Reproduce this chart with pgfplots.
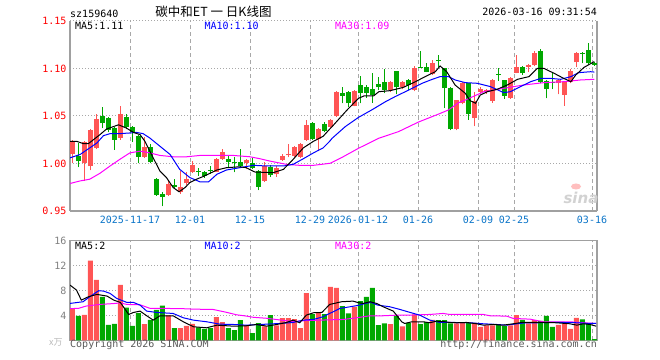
\documentclass[border=0pt]{standalone}
\usepackage{pgfplots}
\pgfplotsset{compat=1.18}
\usepackage{pgfplotstable}
\usepackage{fontspec}
\setmainfont{DejaVu Sans Mono}
\newfontfamily\cjk{Noto Sans CJK SC}
\newfontfamily\sinafont{DejaVu Sans}
\definecolor{kred}{HTML}{FF5555}
\definecolor{kgreen}{HTML}{00A800}
\definecolor{gridgray}{HTML}{A8A8A8}
\definecolor{axgray}{HTML}{A0A0A0}
\definecolor{dateblue}{HTML}{0A74C8}
\definecolor{ticred}{HTML}{FF0000}
\definecolor{mablue}{HTML}{0000FF}
\definecolor{mamag}{HTML}{FF00FF}
\definecolor{txtgray}{HTML}{5A5A5A}

% red (up) candles: index open high low close volume
\pgfplotstableread{
i o h l c v
0 1.010 1.025 1.000 1.024 5.07
2 1.000 1.024 0.982 1.022 4.10
3 0.997 1.036 0.993 1.035 12.75
4 1.016 1.052 1.0155 1.0465 9.70
8 1.027 1.0604 1.025 1.052 8.90
12 1.007 1.028 1.006 1.017 2.61
16 0.967 0.9825 0.966 0.978 4.00
18 0.970 0.992 0.968 0.9755 1.97
19 0.979 0.991 0.9775 0.9834 2.35
20 0.991 1.003 0.990 0.998 2.67
24 0.9915 1.0055 0.991 1.0047 3.73
25 1.0047 1.015 1.004 1.0117 2.93
29 1.000 1.0045 0.9939 1.0037 2.40
32 0.9817 1.001 0.981 0.9977 2.24
34 0.9886 0.997 0.986 0.995 2.40
35 1.0037 1.0096 1.003 1.008 3.57
36 1.0085 1.0205 1.0065 1.0095 3.57
37 1.0082 1.0188 1.007 1.0177 3.41
38 1.0072 1.021 1.006 1.0205 1.97
39 1.0247 1.046 1.024 1.0405 7.57
41 1.0257 1.037 1.013 1.036 4.53
43 1.0387 1.047 1.037 1.0457 8.55
44 1.050 1.0761 1.049 1.0754 8.40
47 1.0604 1.0772 1.060 1.076 5.36
53 1.0772 1.087 1.075 1.0859 2.61
55 1.080 1.087 1.078 1.0859 2.24
57 1.0772 1.102 1.076 1.1006 4.18
60 1.0936 1.109 1.093 1.106 3.28
64 1.0358 1.067 1.035 1.0666 2.72
65 1.063 1.086 1.062 1.085 2.88
67 1.0474 1.0755 1.0393 1.066 2.80
68 1.0754 1.080 1.074 1.0782 2.16
69 1.075 1.078 1.073 1.077 2.43
70 1.0656 1.089 1.064 1.0877 2.43
73 1.069 1.091 1.068 1.0894 2.43
74 1.0954 1.114 1.095 1.1017 4.05
76 1.1017 1.105 1.0964 1.1034 2.72
77 1.1034 1.118 1.102 1.1164 3.25
81 1.0842 1.089 1.0726 1.0877 2.48
82 1.072 1.087 1.0604 1.0859 2.64
83 1.0852 1.099 1.084 1.0975 1.84
84 1.1062 1.117 1.1017 1.1164 3.60
}\redk

% green (down) candles
\pgfplotstableread{
i o h l c v
1 1.008 1.0215 0.996 1.0025 3.95
5 1.050 1.059 1.037 1.042 6.95
6 1.0476 1.049 1.033 1.035 2.50
7 1.037 1.038 1.0146 1.025 2.67
9 1.0486 1.052 1.036 1.038 5.26
10 1.038 1.039 1.023 1.033 2.35
11 1.029 1.030 1.000 1.007 4.37
13 1.017 1.020 1.000 1.001 3.30
14 0.984 0.9845 0.966 0.967 4.90
15 0.9675 0.9695 0.955 0.9645 5.55
17 0.977 0.9834 0.974 0.975 1.97
21 0.992 0.9955 0.987 0.9905 2.08
22 0.991 0.992 0.985 0.987 1.87
23 0.9935 0.997 0.989 0.9925 1.97
26 1.005 1.009 0.9967 1.002 1.97
27 1.002 1.0072 0.9907 1.0005 1.65
28 1.001 1.015 0.996 0.997 3.25
30 1.000 1.006 0.994 0.995 1.17
31 0.992 0.993 0.972 0.9757 2.77
33 0.9967 0.998 0.986 0.988 4.05
40 1.043 1.044 1.025 1.0257 4.21
42 1.041 1.044 1.033 1.034 4.21
45 1.0744 1.0807 1.063 1.071 5.49
46 1.0754 1.0765 1.059 1.0632 4.35
48 1.0824 1.092 1.063 1.0737 6.29
49 1.080 1.082 1.069 1.074 6.96
50 1.078 1.095 1.064 1.072 8.40
51 1.083 1.091 1.077 1.080 2.45
52 1.0859 1.099 1.074 1.0772 2.75
54 1.0968 1.097 1.0726 1.080 3.95
56 1.0877 1.089 1.077 1.0824 2.83
58 1.1015 1.118 1.1005 1.1005 2.61
59 1.1017 1.106 1.096 1.0964 2.94
61 1.109 1.114 1.1017 1.108 3.25
62 1.0999 1.100 1.058 1.0789 3.25
63 1.0789 1.080 1.035 1.0358 2.75
66 1.0842 1.085 1.046 1.052 2.83
71 1.0938 1.1006 1.087 1.0928 2.56
72 1.0877 1.088 1.068 1.0712 2.30
75 1.1017 1.102 1.093 1.0947 3.28
78 1.1185 1.120 1.085 1.0852 3.12
79 1.0866 1.088 1.0684 1.0782 3.95
80 1.086 1.0964 1.0782 1.085 2.16
85 1.116 1.117 1.1052 1.115 3.38
86 1.1192 1.127 1.1034 1.1052 2.78
87 1.1052 1.107 1.1025 1.1035 0.21
}\greenk

\pgfplotsset{
 kbase/.style={
  scale only axis, anchor=south west, width=527bp,
  xmin=-0.383, xmax=87.45,
  xtick={9.62,19.62,29.62,39.62,47.62,57.62,67.62,73.62,86.62},
  major tick length=0pt,
  xmajorgrids, ymajorgrids,
  major x grid style={gridgray, line width=1bp, dash pattern=on 4bp off 3bp},
  major y grid style={gridgray, line width=1bp, dash pattern=on 1bp off 2bp},
  axis line style={axgray, line width=1.2bp},
  tick label style={font=\fontsize{10bp}{12bp}\selectfont, inner sep=0pt},
  /pgf/number format/assume math mode=true,
 },
 wick/.style={only marks, mark=*, mark size=0pt, mark options={draw=none, fill=none}, forget plot,
   error bars/.cd, y dir=plus, y explicit, error mark=none,
   error bar style={line width=1bp, #1}},
 body/.style={only marks, mark=*, mark size=0pt, mark options={draw=none, fill=none}, forget plot,
   error bars/.cd, y dir=plus, y explicit, error mark=none,
   error bar style={line width=5bp, #1}},
}

\begin{document}
\begin{tikzpicture}[x=1bp,y=1bp]
\path[use as bounding box] (0bp,0bp) rectangle (660bp,360bp);

% ---------------- price panel ----------------
\begin{axis}[kbase, at={(70bp,149bp)}, height=190.3bp,
  ymin=0.95, ymax=1.15,
  ytick={0.95,1.00,1.05,1.10,1.15},
  yticklabels={0.95,1.00,1.05,1.10,1.15},
  xticklabels={2025-11-17,12-01,12-15,12-29,2026-01-12,01-26,02-09,02-25,03-16},
  axis x line*=bottom, axis y line*=box,
  yticklabel style={text=ticred, anchor=base east, xshift=-3.3bp, yshift=-4bp},
  xticklabel style={text=dateblue, anchor=base, yshift=-13bp},
]
\addplot[wick=kred] table[x=i, y=l, y error plus expr=\thisrow{h}-\thisrow{l}] {\redk};
\addplot[body=kred] table[x=i, y=o, y error plus expr=\thisrow{c}-\thisrow{o}] {\redk};
\addplot[wick=kgreen] table[x=i, y=l, y error plus expr=\thisrow{h}-\thisrow{l}] {\greenk};
\addplot[body=kgreen] table[x=i, y=c, y error plus expr=\thisrow{o}-\thisrow{c}] {\greenk};

% MA30
\addplot[mamag, line width=1bp] coordinates {
(-0.38,0.9789) (1.3,0.9816) (2.9,0.9834) (4.6,0.9896) (6.3,0.9973) (7.9,1.0042)
(9.6,1.0111) (11.3,1.0129) (12.9,1.0111) (14.6,1.0084) (16.8,1.0070) (19.1,1.0070)
(21.3,1.0084) (24.1,1.0084) (26.8,1.0084) (29.6,1.0070) (31.3,1.0049) (32.9,1.0025)
(35.7,0.9990) (37.9,0.9980) (40.2,0.9980) (42.4,0.9997) (43,1.0002) (45,1.0065)
(47.7,1.0159) (51.1,1.0265) (54.4,1.0335) (57.7,1.0435) (61.1,1.0520) (62.7,1.0562)
(64.4,1.0639) (65.5,1.0666) (68.6,1.0754) (71.9,1.0789) (75.2,1.0824) (78.6,1.0849)
(81.9,1.0859) (84.7,1.0877) (87,1.0884)};
% MA10
\addplot[mablue, line width=1bp] coordinates {
(-0.38,1.0059) (1.3,1.0094) (2.9,1.0163) (4.1,1.0215) (5.2,1.0292) (6.3,1.0313)
(7.9,1.0313) (9.6,1.0320) (10.7,1.0326) (11.8,1.0313) (12.9,1.0268) (14.6,1.0181)
(16.3,1.0094) (17.9,0.9938) (19.6,0.9851) (21.3,0.9806) (22.7,0.9806) (24.1,0.9886)
(25.7,0.9931) (27.9,0.9955) (30.2,0.9980) (32.4,0.9973) (35.2,0.9973) (36.8,0.9990)
(38.5,1.0049) (40.2,1.0111) (41.8,1.0163) (42.9,1.0233) (43.3,1.0264) (45.5,1.0387)
(47.7,1.0484) (49.9,1.0562) (52.2,1.0649) (53.8,1.0702) (56.1,1.0772) (58.3,1.0842)
(60,1.0884) (61.3,1.0912) (62.7,1.0912) (63.8,1.0877) (65.5,1.0849) (67.5,1.0842)
(69.7,1.0807) (71.9,1.0744) (73,1.0754) (74.7,1.0807) (76.4,1.0859) (78.1,1.0894)
(79.7,1.0894) (81.4,1.0884) (83.1,1.0912) (84.4,1.0954) (86.4,1.0964) (87,1.0960)};
% MA5
\addplot[black, line width=1bp] coordinates {
(-0.38,1.0233) (0.7,1.0233) (1.8,1.0209) (2.7,1.0209) (4.6,1.0302) (5.7,1.0361)
(7.7,1.0406) (9,1.0372) (10.2,1.0326) (11.3,1.0302) (12.1,1.0233) (13.2,1.0094)
(14.6,0.9920) (15.7,0.9851) (16.8,0.9747) (17.8,0.9702) (18.8,0.9747) (19.6,0.9799)
(20.7,0.9834) (21.8,0.9862) (24.1,0.9931) (25.7,0.9955) (27.9,0.9965) (29,0.9955)
(30.4,0.9910) (32.4,0.9905) (33.5,0.9903) (35.2,0.9938) (36.8,1.0042) (38.5,1.0163)
(40.2,1.0233) (41.8,1.0285) (42.9,1.0361) (43.3,1.0387) (45.8,1.0562) (47.7,1.0684)
(48.6,1.0709) (50.2,1.0709) (51.1,1.0754) (53,1.0765) (55.2,1.0800) (57.2,1.0859)
(58.8,1.0912) (60.5,1.0964) (61.3,1.1024) (62.4,1.0964) (63.8,1.0824) (65.5,1.0737)
(66.3,1.0660) (67.2,1.0632) (68,1.0719) (69.2,1.0754) (70.8,1.0779) (72.5,1.0824)
(74.2,1.0884) (76.1,1.0912) (77.5,1.0999) (78.6,1.0999) (80.3,1.0947) (81.9,1.0894)
(83.1,1.0859) (83.9,1.0929) (85.3,1.1010) (87,1.1070)};
\end{axis}

% ---------------- volume panel ----------------
\begin{axis}[kbase, at={(70bp,19.5bp)}, height=100.2bp,
  ymin=0, ymax=16, ytick={4,8,12,16}, yticklabels={4,8,12,16},
  xticklabels={},
  yticklabel style={text=gray, anchor=base east, xshift=-3.3bp, yshift=-4bp},
]
\addplot[ybar, bar width=5bp, bar shift=0pt, fill=kred, draw=none, forget plot] table[x=i, y=v] {\redk};
\addplot[ybar, bar width=5bp, bar shift=0pt, fill=kgreen, draw=none, forget plot] table[x=i, y=v] {\greenk};
% vol MA30
\addplot[mamag, line width=1bp] coordinates {
(-0.38,5.10) (1,5.12) (2.3,5.50) (4.6,5.76) (6.9,5.90) (8,6.00) (9.1,5.76) (11.3,5.70)
(12.9,5.15) (14.6,5.12) (17.9,5.10) (20.2,5.01) (23.5,4.95) (25.7,4.50) (27.4,4.10)
(29,3.90) (30.2,3.70) (32.4,3.55) (34.6,3.28) (36.8,3.00) (39,3.20) (41.3,3.25)
(42.9,3.30) (45.2,3.36) (47.4,3.63) (49.6,3.95) (51.8,3.95) (54.1,4.05) (56.3,4.05)
(59.6,4.16) (61.8,4.32) (62.9,4.16) (65.2,4.16) (68.5,4.16) (69.6,3.95) (72.4,3.89)
(73.5,3.52) (76.3,3.41) (78.5,2.99) (80.7,2.99) (82.9,2.99) (85.2,2.83) (87.3,2.72)};
% vol MA10
\addplot[mablue, line width=1bp] coordinates {
(-0.38,5.92) (1.8,6.19) (2.9,6.99) (4.4,7.95) (5.2,7.89) (6.3,7.52) (7.4,6.72)
(9.1,6.08) (10.2,6.08) (11.3,5.65) (12.4,4.69) (14.1,4.48) (16.8,4.32) (18.5,3.63)
(20.2,3.25) (22.4,2.99) (24.6,2.61) (26.8,2.56) (29.0,2.45) (32.4,2.61) (34.6,2.72)
(36.8,2.88) (38.5,3.25) (40.2,3.36) (41.8,3.79) (42.9,4.32) (44.6,5.12) (46.3,5.39)
(47.9,5.65) (48.8,5.92) (49.8,6.08) (50.9,5.65) (52.9,5.39) (54.6,4.96) (56.3,4.48)
(57.9,4.05) (59.6,3.25) (61.3,2.88) (63.5,2.88) (66.3,2.83) (68.5,2.67) (70.7,2.56)
(72.4,2.45) (74.1,2.67) (75.7,2.83) (77.4,2.83) (79.6,2.88) (81.8,2.88) (84.1,2.83)
(86.3,2.72) (87.3,2.72)};
% vol MA5
\addplot[black, line width=1bp] coordinates {
(-0.38,8.85) (0.7,8.05) (1.5,6.45) (2.7,6.99) (4.1,7.36) (5.8,7.09) (6.9,6.45)
(8.0,6.08) (9.4,4.16) (10.2,4.48) (11.3,4.69) (12.4,3.95) (13.5,3.25) (14.6,3.95)
(16.8,3.95) (18.5,2.99) (20.2,2.19) (22.4,2.03) (24.1,2.45) (26.8,2.29) (29.0,2.35)
(30.7,2.56) (32.4,2.29) (34.1,2.56) (35.7,2.88) (36.8,3.25) (37.9,2.83) (39.0,4.05)
(40.2,4.43) (41.6,4.48) (42.9,5.76) (44.9,6.19) (46.8,6.29) (47.7,6.03) (48.5,5.92)
(49.6,6.19) (50.7,5.92) (51.8,5.39) (53.5,4.69) (54.9,2.99) (55.4,2.72) (56.6,2.99)
(58.5,2.99) (59.6,2.83) (60.7,3.09) (62.1,2.99) (62.9,2.88) (64.1,2.83) (65.7,2.88)
(67.4,2.67) (68.5,2.45) (70.2,2.56) (71.8,2.45) (73.5,2.67) (74.9,2.88) (76.3,2.88)
(78.5,2.88) (80.7,2.83) (82.9,2.67) (84.1,2.45) (85.2,2.67) (86.3,2.56) (87.3,2.29)};
\end{axis}

% ---------------- texts ----------------
\begingroup
\fontsize{10bp}{12bp}\selectfont
\node[anchor=base west, inner sep=0pt] at (70bp,342.7bp) {sz159640};
\node[anchor=base east, inner sep=0pt] at (597bp,344bp) {2026-03-16 09:31:54};
\node[anchor=base west, inner sep=0pt, text=black] at (75bp,330.7bp) {MA5:1.11};
\node[anchor=base west, inner sep=0pt, text=mablue] at (204.3bp,330.7bp) {MA10:1.10};
\node[anchor=base west, inner sep=0pt, text=mamag] at (335bp,330.7bp) {MA30:1.09};
\node[anchor=base west, inner sep=0pt, text=black] at (75bp,110bp) {MA5:2};
\node[anchor=base west, inner sep=0pt, text=mablue] at (204.3bp,110bp) {MA10:2};
\node[anchor=base west, inner sep=0pt, text=mamag] at (335bp,110bp) {MA30:2};
\node[anchor=base west, inner sep=0pt, text=txtgray] at (70bp,12.5bp) {Copyright 2026 SINA.COM};
\node[anchor=base east, inner sep=0pt, text=txtgray] at (597bp,12.5bp) {http://finance.sina.com.cn};
\endgroup
\node[anchor=base, inner sep=0pt] at (213.5bp,343.5bp) {\cjk\fontsize{12.5bp}{14bp}\selectfont 碳中和ET 一 日K线图};
\node[anchor=base west, inner sep=0pt, text=gray!55] at (49bp,15bp) {\cjk\fontsize{9bp}{10bp}\selectfont x万};
% sina watermark
\fill[red!25] (576bp,173.5bp) ellipse (5bp and 3bp);
\node[anchor=center, inner sep=0pt, text=gray!35] at (581bp,162bp) {\sinafont\bfseries\itshape\fontsize{15bp}{15bp}\selectfont sina};
\end{tikzpicture}
\end{document}
